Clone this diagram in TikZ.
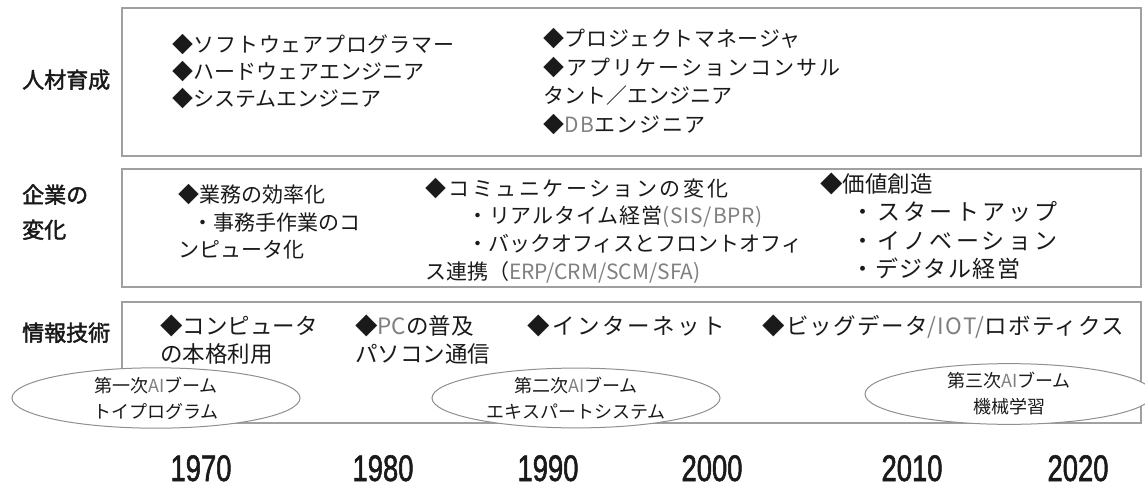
\documentclass[tikz,border=0pt]{standalone}
\usepackage{fontspec}
\setmainfont{Noto Sans CJK JP}
\newfontfamily\jp{Noto Sans CJK JP}
\newfontfamily\jplab[FakeBold=2]{Noto Sans CJK JP}
\newfontfamily\yearfont[FakeStretch=0.74,FakeBold=1.5]{Liberation Sans}
\usetikzlibrary{shapes.geometric}
\definecolor{boxgray}{HTML}{A0A0A0}
\definecolor{ellgray}{HTML}{909090}
\definecolor{txt}{HTML}{1A1A1A}
\definecolor{latgray}{HTML}{808080}
\newcommand\latpart[1]{{\color{latgray}#1}}
\newcommand\trk[2]{{\addfontfeature{LetterSpace=#1}#2}}
\begin{document}
\begin{tikzpicture}[x=1pt,y=-1pt,
  box/.style={draw=boxgray,line width=1.3pt},
  lbl/.style={anchor=base west,inner sep=0,text=txt,font=\jplab\fontsize{22}{22}\selectfont},
  itm/.style={anchor=base west,inner sep=0,text=txt,font=\jp\fontsize{21}{21}\selectfont},
  itmc/.style={anchor=base west,inner sep=0,text=txt,font=\jp\fontsize{23}{23}\selectfont},
  itmb/.style={anchor=base west,inner sep=0,text=txt,font=\jp\fontsize{22.5}{22.5}\selectfont},
  boom/.style={ellipse,draw=ellgray,fill=white,line width=1pt,inner sep=0,
    minimum width=288,minimum height=48,align=center,text=txt,
    font=\jp\fontsize{18}{26}\selectfont},
  yr/.style={anchor=base,inner sep=0,text=txt,font=\yearfont\fontsize{37}{37}\selectfont}]
\useasboundingbox (0,0) rectangle (1145,490);
\fill[white] (0,0) rectangle (1145,490);
% boxes
\draw[box] (122,8) rectangle (1141,156);
\draw[box] (122,169) rectangle (1141,287);
\draw[box] (122,302) rectangle (1141,423);
% row labels
\node[lbl] (l1) at (22,88) {人材育成};
\node[lbl] (l2a) at (22,203) {企業の};
\node[lbl] (l2b) at (22,238) {変化};
\node[lbl] (l3) at (22,341) {情報技術};
% box 1
\node[itm] (a1) at (172,52) {\trk{3.5}{◆ソフトウェアプログラマー}};
\node[itm] (a2) at (172,79) {◆ハードウェアエンジニア};
\node[itm] (a3) at (172,106) {◆システムエンジニア};
\node[itm] (b1) at (543,46) {\trk{3}{◆プロジェクトマネージャ}};
\node[itm] (b2) at (543,75) {\trk{10}{◆アプリケーションコンサル}};
\node[itm] (b3) at (543,103) {タント／エンジニア};
\node[itm] (b4) at (543,132) {\trk{8}{◆\latpart{DB}エンジニア}};
% box 2
\node[itm] (c1) at (178,202) {◆業務の効率化};
\node[itm] (c2) at (192,230) {・事務手作業のコ};
\node[itm] (c3) at (178,257) {ンピュータ化};
\node[itm] (d1) at (425,196) {\trk{12}{◆コミュニケーションの変化}};
\node[itm] (d2) at (467,223) {\trk{4}{・リアルタイム経営\latpart{(SIS/BPR)}}};
\node[itm] (d3) at (467,251) {・バックオフィスとフロントオフィ};
\node[itm] (d4) at (425,279) {ス連携（\latpart{ERP/CRM/SCM/SFA)}};
\node[anchor=base west,inner sep=0,text=txt,font=\jp\fontsize{22.5}{22.5}\selectfont] (e1) at (820,192) {◆価値創造};
\node[itmc] (e2) at (851,220) {\trk{14}{・スタートアップ}};
\node[itmc] (e3) at (851,249) {\trk{14}{・イノベーション}};
\node[itmc] (e4) at (851,277) {\trk{6}{・デジタル経営}};
% box 3
\node[itmb] (f1) at (160,334) {◆コンピュータ};
\node[itmb] (f2) at (160,362) {の本格利用};
\node[itmb] (g1) at (355,334) {◆\latpart{PC}の普及};
\node[itmb] (g2) at (355,362) {パソコン通信};
\node[itmb] (h1) at (527,334) {\trk{11}{◆インターネット}};
\node[itmb] (i1) at (762,334) {\trk{6}{◆ビッグデータ\latpart{/IOT/}ロボティクス}};
% AI booms
\node[boom] (ai1) at (156,398) {第一次\latpart{AI}ブーム\\トイプログラム};
\node[boom] (ai2) at (576,398) {第二次\latpart{AI}ブーム\\エキスパートシステム};
\node[boom] (ai3) at (1009,394) {第三次\latpart{AI}ブーム\\機械学習};
% years
\node[yr] (y1970) at (201,481) {1970};
\node[yr] (y1980) at (383,481) {1980};
\node[yr] (y1990) at (548,481) {1990};
\node[yr] (y2000) at (712,481) {2000};
\node[yr] (y2010) at (912,481) {2010};
\node[yr] (y2020) at (1078,481) {2020};
\end{tikzpicture}
\end{document}
